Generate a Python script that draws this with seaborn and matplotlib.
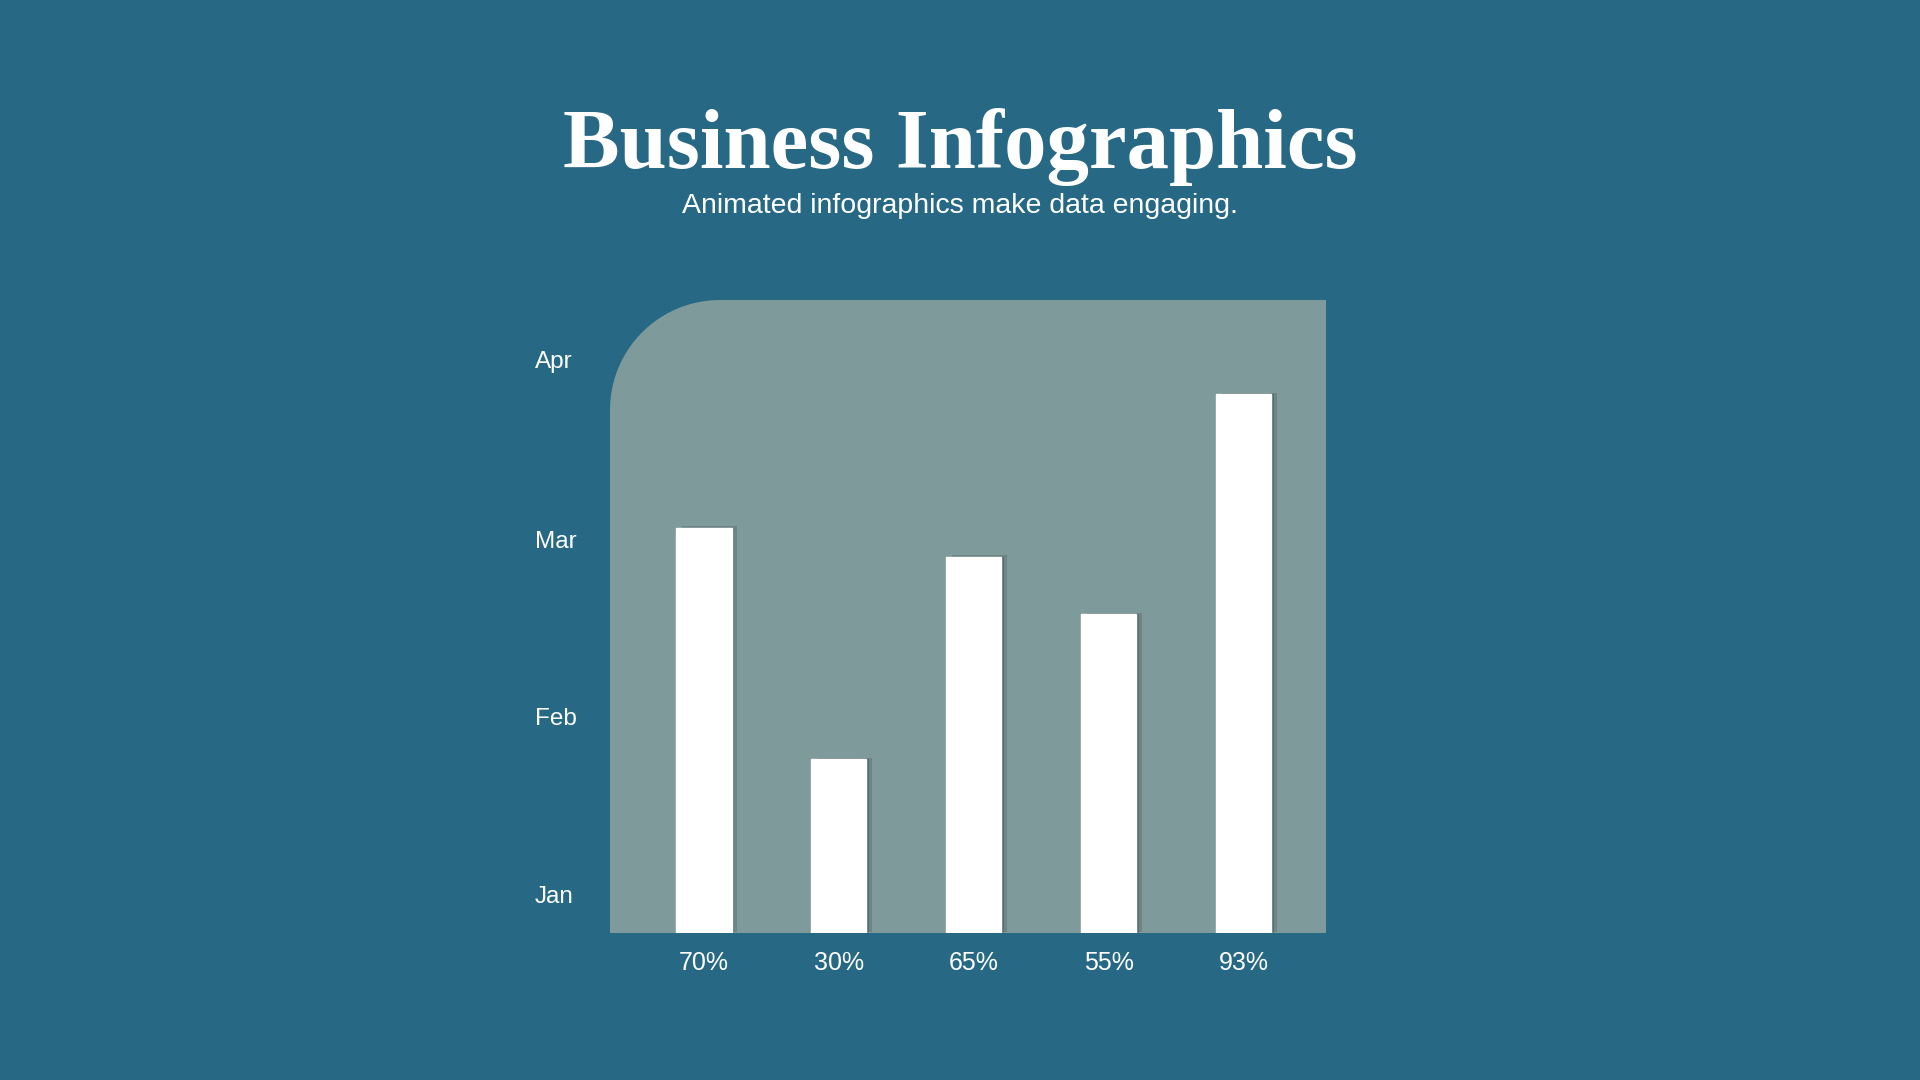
import numpy as np
import pandas as pd
import seaborn as sns
import matplotlib.pyplot as plt
from matplotlib.path import Path
from matplotlib.patches import PathPatch
from matplotlib import patheffects as pe

# chart data
categories = ["70%", "30%", "65%", "55%", "93%"]
values = [70, 30, 65, 55, 93]
month_labels = ["Jan", "Feb", "Mar", "Apr"]
month_ticks = [6.7, 37.3, 68.0, 99.0]

bg_color = "#276985"
panel_color = "#7f9a9a"

sns.set_style("white")
plt.rcParams['font.family'] = ['Liberation Sans', 'DejaVu Sans']

df = pd.DataFrame({"label": categories, "value": values})

fig = plt.figure(figsize=(19.2, 10.8), dpi=100, facecolor=bg_color)

# axes cover the grey panel area
ax = fig.add_axes([610 / 1920, 147 / 1080, 716 / 1920, 633 / 1080])
ax.set_facecolor("none")

# panel with only the top-left corner rounded
rx = 110 / 716
ry = 110 / 633
theta = np.linspace(np.pi, np.pi / 2, 40)
arc_x = rx + rx * np.cos(theta)
arc_y = 1 - ry + ry * np.sin(theta)
verts = [(0, 0), (1, 0), (1, 1)] + list(zip(arc_x[::-1], arc_y[::-1])) + [(0, 0)]
codes = [Path.MOVETO] + [Path.LINETO] * (len(verts) - 2) + [Path.CLOSEPOLY]
panel = PathPatch(Path(verts, codes), transform=ax.transAxes, facecolor=panel_color,
                  edgecolor="none", zorder=0)
ax.add_patch(panel)

sns.barplot(data=df, x="label", y="value", color="white", width=0.41,
            saturation=1, ax=ax, zorder=3)

# soft shadow on the bars
for bar in ax.patches:
    if bar is panel:
        continue
    bar.set_path_effects([pe.SimplePatchShadow(offset=(4, 1), shadow_rgbFace="#4a6064", alpha=0.35),
                          pe.SimplePatchShadow(offset=(2, 0), shadow_rgbFace="#3a4f52", alpha=0.4),
                          pe.Normal()])

ax.set_xlim(-0.696, 4.611)
ax.set_ylim(0, 109.3)
ax.set_yticks(month_ticks)
ax.set_yticklabels(month_labels)
ax.set_xlabel("")
ax.set_ylabel("")
for s in ax.spines.values():
    s.set_visible(False)

ax.tick_params(axis="y", length=0, pad=54, labelsize=17.5, labelcolor="white")
ax.tick_params(axis="x", length=0, pad=13, labelsize=18, labelcolor="white")
for lbl in ax.get_yticklabels():
    lbl.set_horizontalalignment("left")

fig.text(0.5, 1 - 168 / 1080, "Business Infographics", ha="center", va="baseline",
         fontsize=61, fontweight="bold", color="white", family=["Liberation Serif", "DejaVu Serif"])
fig.text(0.5, 1 - 213 / 1080, "Animated infographics make data engaging.", ha="center",
         va="baseline", fontsize=20.5, color="white")

plt.savefig("out.png", dpi=100, facecolor=bg_color)
